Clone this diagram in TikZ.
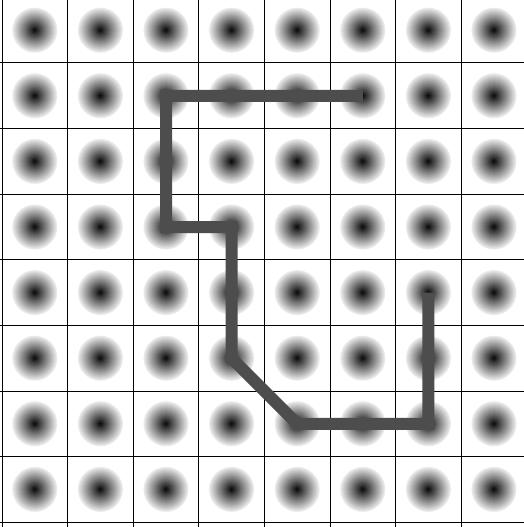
\documentclass[tikz,border=0pt]{standalone}
\definecolor{pathgray}{RGB}{77,77,77}
\tikzset{
  gridline/.style={draw=black, line width=1pt},
  route/.style={draw=pathgray, line width=12pt, line join=miter, line cap=butt}
}
\begin{document}
\begin{tikzpicture}[x=1pt,y=-1pt]
\useasboundingbox (0,0) rectangle (524,527);
\clip (0,0) rectangle (524,527);
\fill[white] (0,0) rectangle (524,527);
% blobs
\foreach \c in {0,...,7} {
  \foreach \r in {0,...,7} {
    \foreach \k in {22.5,21.5,...,0.5} {
      \pgfmathsetmacro\w{92*(\k/22.5)^0.95}
      \fill[white!\w!black] (34.8+65.6*\c, 30.2+65.6*\r) circle[radius=\k pt];
    }
  }
}
% grid
\foreach \i in {0,...,8} {
  \draw[gridline] (2+65.6*\i, -10) -- (2+65.6*\i, 540);
  \draw[gridline] (-10, -2.6+65.6*\i) -- (540, -2.6+65.6*\i);
}
% route points (cell centres)
\coordinate (p1) at (34.8+65.6*5, 30.2+65.6*1);
\coordinate (p2) at (34.8+65.6*2, 30.2+65.6*1);
\coordinate (p3) at (34.8+65.6*2, 30.2+65.6*3);
\coordinate (p4) at (34.8+65.6*3, 30.2+65.6*3);
\coordinate (p5) at (34.8+65.6*3, 30.2+65.6*5);
\coordinate (p6) at (34.8+65.6*4, 30.2+65.6*6);
\coordinate (p7) at (34.8+65.6*6, 30.2+65.6*6);
\coordinate (p8) at (34.8+65.6*6, 30.2+65.6*4);
\draw[route] (p1) -- (p2) -- (p3) -- (p4) -- (p5) -- (p6) -- (p7) -- (p8);
\end{tikzpicture}
\end{document}
